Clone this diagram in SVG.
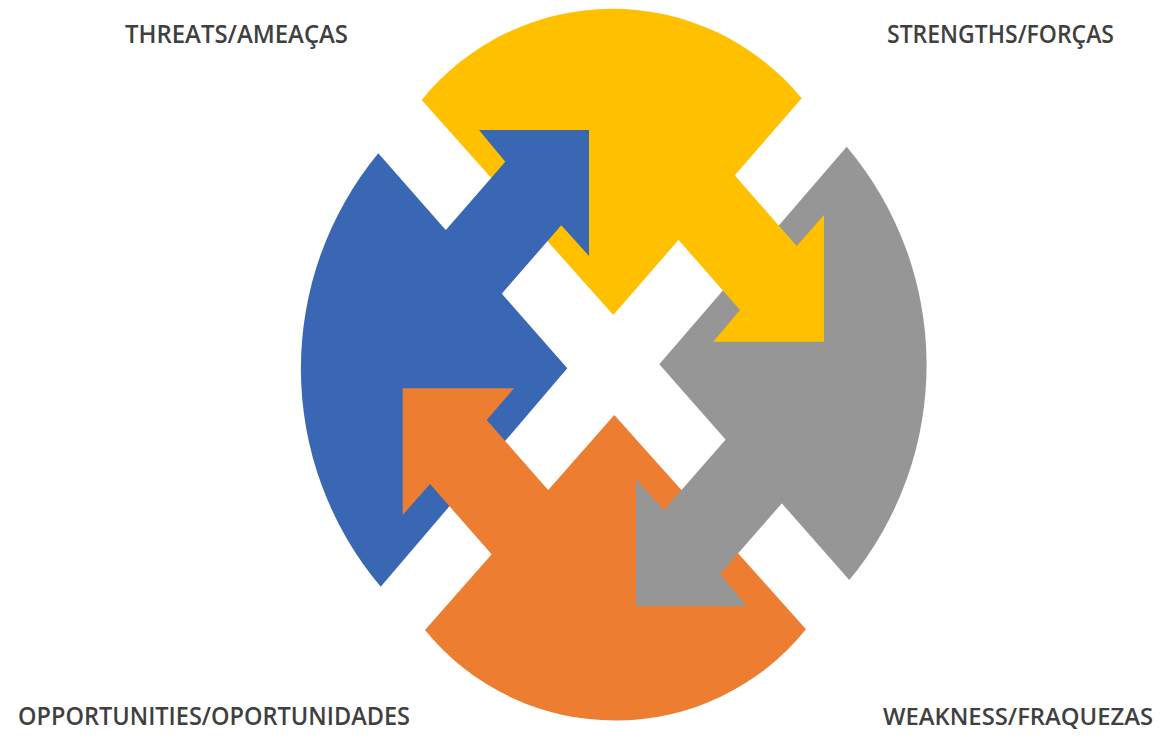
<svg xmlns="http://www.w3.org/2000/svg" width="1164" height="738" viewBox="0 0 1164 738">
<style>
.lbl{font-family:"Open Sans","Liberation Sans",sans-serif;font-weight:600;font-size:25px;fill:#404040}
.sm{font-size:23px}
.yel{fill:#FFC000}.blu{fill:#3A67B4}.gry{fill:#969696}.org{fill:#ED7D31}
</style>
<rect width="1164" height="738" fill="#FFFFFF"/>
<g id="strengths">
<path class="yel" d="M613.3,315 L421.7,100 A245,245 0 0 1 801.7,98.3 Z"/>
<text class="lbl" x="887" y="43" textLength="227" lengthAdjust="spacingAndGlyphs">STRENGTHS/FORÇAS</text>
</g>
<g id="threats">
<path class="blu" d="M567.3,368.3 L380.7,586.7 A338,338 0 0 1 378.3,153.3 Z"/>
<text class="lbl" x="125" y="43" textLength="223" lengthAdjust="spacingAndGlyphs">THREATS/AMEAÇAS</text>
</g>
<g id="weakness">
<path class="gry" d="M659.3,364.3 L846.7,146.7 A338,338 0 0 1 849.3,580 Z"/>
<text class="lbl sm" x="883" y="725" textLength="270" lengthAdjust="spacingAndGlyphs">WEAKNESS/FRAQUEZAS</text>
</g>
<g id="opportunities">
<path class="org" d="M614.3,415 L806,629.3 A245,245 0 0 1 425,630 Z"/>
<text class="lbl" x="18" y="725" textLength="392" lengthAdjust="spacingAndGlyphs">OPPORTUNITIES/OPORTUNIDADES</text>
</g>
<g id="connectors">
<polygon class="blu" points="589,130 589,256 561.3,225.3 441.3,363.1 385.3,299.5 505.3,161.7 479,130"/>
<polygon class="yel" points="824,215 824,341.7 713.3,341.7 740,310 640,196.1 696.7,132.1 796.7,246"/>
<polygon class="gry" points="636,479.3 636,606 746.7,606 720,574 820,459.7 764,395.7 664,510"/>
<polygon class="org" points="402.7,388.3 514,388.3 486.7,420 586.7,534 530,598 430,484 402.7,515"/>
</g>
</svg>
